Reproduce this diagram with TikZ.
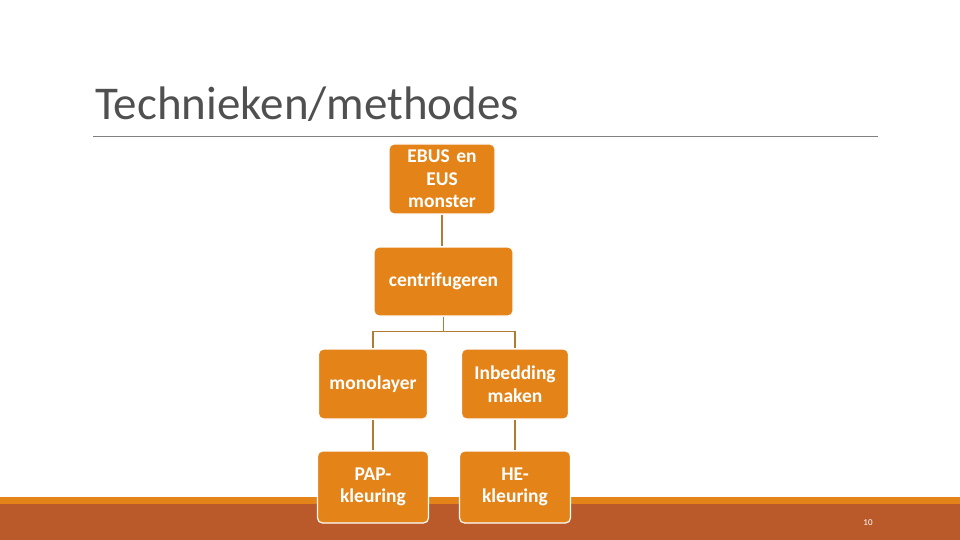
\documentclass[tikz,border=0pt]{standalone}
\usepackage{fontspec}
\setmainfont{Carlito}
\usetikzlibrary{positioning}
\definecolor{boxorange}{HTML}{E48318}
\definecolor{bandrust}{HTML}{BA5A2B}
\definecolor{linkbrown}{HTML}{B07B33}
\definecolor{titlegray}{HTML}{505050}
\begin{document}
\begin{tikzpicture}[
    x=1pt, y=-1pt,
    step box/.style={rectangle, draw=white, line width=1.2pt, fill=boxorange,
        rounded corners=5pt, text=white, align=center,
        font=\bfseries\fontsize{19.5}{22.5}\selectfont,
        minimum height=70pt, inner sep=2pt},
    link/.style={draw=linkbrown, line width=1.2pt}
]
\useasboundingbox (0,0) rectangle (960,540);
\fill[bandrust] (0,504) rectangle (960,540);
\fill[boxorange] (0,497) rectangle (960,504);
\node (Title) [anchor=base west, text=titlegray, inner sep=0pt,
    font=\fontsize{47}{50}\selectfont] at (95,120) {Technieken/methodes};
\draw[gray, line width=0.8pt] (93,136) -- (878,136);

\node (Sample) [step box, minimum width=106pt, text width=100pt] at (442,179) {EBUS en\\EUS\\monster};
\node (Centrifuge) [step box, minimum width=139pt, minimum height=69pt] at (443.5,281.5) {centrifugeren};
\node (Monolayer) [step box, minimum width=109pt] at (373,384) {monolayer};
\node (Embedding) [step box, minimum width=107pt] at (515,384) {Inbedding\\maken};
\node (PapStain) [step box, minimum width=111pt, minimum height=72pt] at (373,487) {PAP-\\kleuring};
\node (HeStain) [step box, minimum width=111pt, minimum height=72pt] at (515,487) {HE-\\kleuring};

\draw[link] (Sample.south) -- (Centrifuge.north -| Sample.south);
\draw[link] (Centrifuge.south) -- ++(0,15) coordinate (Fork);
\draw[link] (Fork) -| (Monolayer.north);
\draw[link] (Fork) -| (Embedding.north);
\draw[link] (Monolayer) -- (PapStain);
\draw[link] (Embedding) -- (HeStain);

\node (PageNo) [text=white, font=\fontsize{9}{10}\selectfont] at (868,523) {10};
\end{tikzpicture}
\end{document}
